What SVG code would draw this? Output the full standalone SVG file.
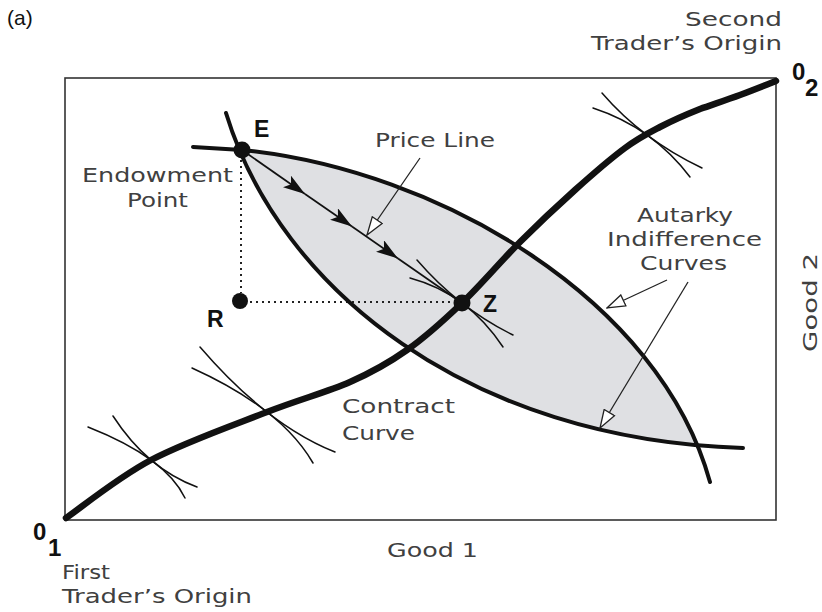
<svg xmlns="http://www.w3.org/2000/svg" width="822" height="612" viewBox="0 0 822 612">
<style>
.lbl{font-family:"DejaVu Sans","Liberation Sans",sans-serif;font-size:20px;fill:#404040;}
.pt{font-family:"Liberation Sans",Arial,sans-serif;font-size:23px;font-weight:bold;fill:#111;}
.org{font-family:"Liberation Sans",Arial,sans-serif;font-size:24px;font-weight:bold;fill:#111;}
.thick{fill:none;stroke:#111;stroke-width:4;stroke-linecap:round;}
.cc{fill:none;stroke:#111;stroke-width:6.5;stroke-linecap:round;stroke-linejoin:round;}
.thin{fill:none;stroke:#111;stroke-width:1.5;stroke-linecap:round;}
.ptr{fill:none;stroke:#222;stroke-width:1.3;marker-end:url(#hollow);}
.dot{fill:none;stroke:#222;stroke-width:2;stroke-dasharray:2 4;}
.pl{fill:none;stroke:#111;stroke-width:1.7;}
</style>
<defs>
<marker id="solid" viewBox="0 0 22 14" refX="22" refY="7" markerWidth="22" markerHeight="14" markerUnits="userSpaceOnUse" orient="auto">
<path d="M0,0 L22,7 L0,14 L5,7 Z" fill="#111"/>
</marker>
<marker id="hollow" viewBox="-1 -1 20 14" refX="18" refY="6" markerWidth="20" markerHeight="14" markerUnits="userSpaceOnUse" orient="auto">
<path d="M0,0 L18,6 L0,12 Z" fill="#fff" stroke="#222" stroke-width="1.3"/>
</marker>
<clipPath id="lensClip">
<path d="M226,113 C280,290 470,440 743,448 L760,448 L760,90 L226,90 Z"/>
</clipPath>
</defs>

<text x="7" y="25" style="font-family:'Liberation Sans',Arial,sans-serif;font-size:21px;fill:#111;">(a)</text>

<g id="box">
<rect x="65" y="78" width="711" height="442" fill="none" stroke="#333" stroke-width="1.6"/>
</g>

<g id="lens-fill">
<path d="M242,150 C440,170 660,300 710,482 L710,530 L242,530 Z" fill="#dfe0e3" clip-path="url(#lensClip)"/>
</g>

<g id="connectors">
<g id="dotted">
<path class="dot" d="M241,160 L241,293"/>
<path class="dot" d="M250,302 L456,302"/>
</g>
<g id="autarky-curves">
<path class="thick" d="M193,147 L242,150 C440,170 660,300 710,482"/>
<path class="thick" d="M226,113 C280,290 470,440 743,448"/>
</g>
<g id="contract-curve">
<path class="cc" d="M66,518 C80.2,508.3 117.5,477.7 151,460 C184.5,442.3 233.8,425 267,412 C300.2,399 326.7,392.3 350,382 C373.3,371.7 388.3,363.2 407,350 C425.7,336.8 443.2,321 462,303 C480.8,285 501.2,260.8 520,242 C538.8,223.2 557.5,205.7 575,190 C592.5,174.3 610.8,158.5 625,148 C639.2,137.5 647.5,133.5 660,127 C672.5,120.5 686.7,114.3 700,109 C713.3,104.3 727.3,99.7 740,95 C752.7,90.3 770,83.3 776,81"/>
</g>
<g id="tangencies">
<path class="thin" d="M113,416 Q147,468.5 197,487"/>
<path class="thin" d="M88,427 Q165.5,457.5 185,498"/>
<path class="thin" d="M200,347 Q266.5,424.5 335,452"/>
<path class="thin" d="M192,368 Q281.5,408.5 313,463"/>
<path class="thin" d="M417,260 Q459,308.5 513,335"/>
<path class="thin" d="M410,278 Q467.5,293.5 503,347"/>
<path class="thin" d="M602,93 Q642,139.5 702,168"/>
<path class="thin" d="M593,108 Q652.5,127.5 690,177"/>
</g>
<g id="price-line">
<path class="pl" d="M242,150 L305,194" marker-end="url(#solid)"/>
<path class="pl" d="M305,194 L352,226.5" marker-end="url(#solid)"/>
<path class="pl" d="M352,226.5 L398,258.5" marker-end="url(#solid)"/>
<path class="pl" d="M398,258.5 L462,303"/>
</g>
<g id="pointers">
<path class="ptr" d="M420,158 L367,235"/>
<path class="ptr" d="M667,280 L607,308"/>
<path class="ptr" d="M688,282 L600,428"/>
</g>
</g>

<g id="node-E">
<circle cx="242" cy="150" r="8.5" fill="#111"/>
<text class="pt" x="254" y="137">E</text>
</g>
<g id="node-R">
<circle cx="240" cy="301" r="8" fill="#111"/>
<text class="pt" x="207" y="327">R</text>
</g>
<g id="node-Z">
<circle cx="462" cy="303" r="8.5" fill="#111"/>
<text class="pt" x="483" y="312">Z</text>
</g>

<g id="labels">
<text class="lbl" x="82" y="182" textLength="151" lengthAdjust="spacingAndGlyphs">Endowment</text>
<text class="lbl" x="127" y="207" textLength="61" lengthAdjust="spacingAndGlyphs">Point</text>
<text class="lbl" x="375" y="147" textLength="120" lengthAdjust="spacingAndGlyphs">Price Line</text>
<text class="lbl" x="637" y="222" textLength="96" lengthAdjust="spacingAndGlyphs">Autarky</text>
<text class="lbl" x="607" y="246" textLength="155" lengthAdjust="spacingAndGlyphs">Indifference</text>
<text class="lbl" x="640" y="270" textLength="87" lengthAdjust="spacingAndGlyphs">Curves</text>
<text class="lbl" x="342" y="413" textLength="113" lengthAdjust="spacingAndGlyphs">Contract</text>
<text class="lbl" x="342" y="440" textLength="73" lengthAdjust="spacingAndGlyphs">Curve</text>
<text class="lbl" x="387" y="557" textLength="91" lengthAdjust="spacingAndGlyphs">Good 1</text>
<text class="lbl" transform="translate(817,302) rotate(-90)" x="-50" y="0" textLength="99" lengthAdjust="spacingAndGlyphs">Good 2</text>
<text class="lbl" x="62" y="579" textLength="48" lengthAdjust="spacingAndGlyphs">First</text>
<text class="lbl" x="62" y="603" textLength="190" lengthAdjust="spacingAndGlyphs">Trader’s Origin</text>
<text class="lbl" x="685" y="26" textLength="97" lengthAdjust="spacingAndGlyphs">Second</text>
<text class="lbl" x="591" y="50" textLength="191" lengthAdjust="spacingAndGlyphs">Trader’s Origin</text>
<text class="org" x="33" y="540">0</text>
<text class="org" x="48" y="556">1</text>
<text class="org" x="792" y="80">0</text>
<text class="org" x="805" y="96">2</text>
</g>
</svg>
